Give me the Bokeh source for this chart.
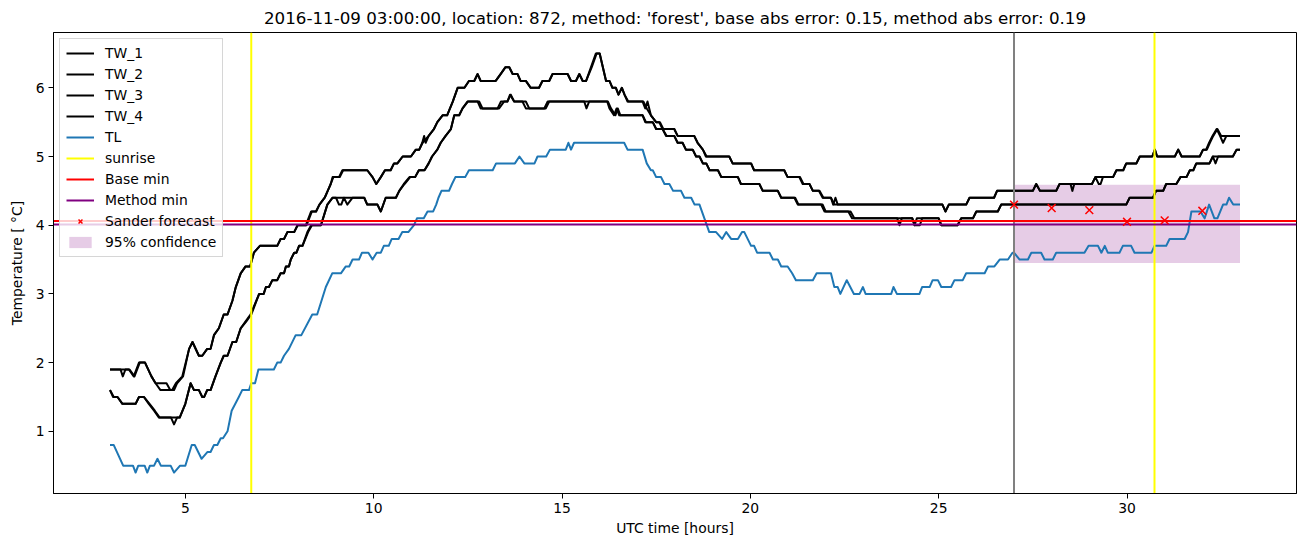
from bokeh.plotting import figure
from bokeh.models import Range1d, Legend, LegendItem, FixedTicker
from bokeh.embed import file_html
from bokeh.resources import INLINE

FONT = "DejaVu Sans"

TITLE = "2016-11-09 03:00:00, location: 872, method: 'forest', base abs error: 0.15, method abs error: 0.19"

# (hour, temperature) vertices of each series
tw_1 = [(3.0,1.9),(3.5,1.9),(3.63,1.8),(3.77,2.0),(3.93,2.0),(4.1,1.8),(4.21,1.7),(4.34,1.6),(4.65,1.6),(4.75,1.7),
        (4.92,1.8),(5.1,2.2),(5.19,2.3),(5.36,2.1),(5.45,2.1),(5.58,2.2),(5.67,2.2),(5.76,2.4),(5.89,2.5),(6.02,2.7),
        (6.12,2.7),(6.25,2.9),(6.34,3.1),(6.47,3.3),(6.6,3.4),(6.72,3.4),(6.82,3.6),(6.98,3.7),(7.44,3.7),(7.53,3.8),
        (7.62,3.8),(7.71,3.9),(7.89,3.9),(7.98,4.0),(8.2,4.0),(8.34,4.2),(8.47,4.2),(8.56,4.3),(8.7,4.4),(8.78,4.5),
        (8.86,4.6),(8.91,4.7),(9.08,4.7),(9.17,4.8),(9.83,4.8),(9.97,4.7),(10.07,4.6),(10.19,4.7),(10.3,4.8),(10.45,4.8),
        (10.54,4.9),(10.63,4.9),(10.77,5.0),(10.99,5.0),(11.12,5.1),(11.21,5.1),(11.29,5.2),(11.34,5.3),(11.38,5.2),(11.46,5.3),
        (11.6,5.4),(11.69,5.5),(11.83,5.6),(11.95,5.6),(12.1,5.8),(12.23,6.0),(12.41,6.0),(12.53,6.1),(12.67,6.1),(12.76,6.2),
        (12.84,6.1),(13.24,6.1),(13.37,6.2),(13.5,6.3),(13.6,6.3),(13.69,6.2),(13.82,6.2),(13.9,6.1),(14.04,6.1),(14.17,6.0),
        (14.39,6.0),(14.48,6.1),(14.66,6.1),(14.75,6.2),(15.15,6.2),(15.24,6.1),(15.37,6.1),(15.46,6.2),(15.55,6.1),(15.64,6.1),
        (15.77,6.3),(15.9,6.5),(16.0,6.5),(16.17,6.1),(16.26,6.1),(16.34,6.0),(16.43,6.0),(16.5,5.9),(16.59,6.0),(16.66,5.9),
        (16.74,5.8),(17.14,5.8),(17.21,5.7),(17.27,5.8),(17.36,5.6),(17.5,5.5),(17.58,5.5),(17.67,5.4),(17.98,5.4),(18.07,5.3),
        (18.51,5.3),(18.6,5.2),(18.74,5.1),(18.82,5.0),(19.44,5.0),(19.53,4.9),(20.02,4.9),(20.1,4.8),(20.9,4.8),(20.99,4.7),
        (21.3,4.7),(21.39,4.6),(21.57,4.6),(21.66,4.5),(21.82,4.5),(21.92,4.4),(22.14,4.4),(22.23,4.3),(25.1,4.3),(25.18,4.2),
        (25.27,4.3),(25.73,4.3),(25.82,4.4),(26.47,4.4),(26.55,4.5),(27.5,4.5),(27.59,4.6),(27.69,4.5),(28.12,4.5),(28.21,4.6),
        (29.07,4.6),(29.16,4.7),(29.25,4.6),(29.3,4.6),(29.36,4.7),(29.63,4.7),(29.72,4.8),(29.9,4.8),(29.98,4.9),(30.25,4.9),
        (30.34,5.0),(30.67,5.0),(30.74,5.1),(30.8,5.0),(31.27,5.0),(31.36,5.1),(31.45,5.0),(31.93,5.0),(32.02,5.1),(32.1,5.1),
        (32.18,5.2),(32.27,5.3),(32.38,5.4),(32.47,5.3),(32.55,5.2),(32.64,5.3),(33.0,5.3)]

tw_2 = [(3.0,1.9),(3.28,1.9),(3.34,1.8),(3.41,1.9),(3.52,1.9),(3.65,1.8),(3.79,2.0),(3.93,2.0),(4.1,1.8),(4.21,1.7),
        (4.5,1.7),(4.6,1.6),(4.7,1.6),(4.78,1.7),(4.94,1.8),(5.1,2.2),(5.19,2.3),(5.36,2.1),(5.45,2.1),(5.58,2.2),
        (5.67,2.2),(5.76,2.4),(5.89,2.5),(6.02,2.7),(6.12,2.7),(6.25,2.9),(6.34,3.1),(6.47,3.3),(6.6,3.4),(6.72,3.4),
        (6.82,3.6),(6.98,3.7),(7.44,3.7),(7.53,3.8),(7.62,3.8),(7.71,3.9),(7.89,3.9),(7.98,4.0),(8.22,4.0),(8.36,4.2),
        (8.47,4.2),(8.56,4.3),(8.7,4.4),(8.78,4.5),(8.86,4.6),(8.93,4.7),(9.1,4.7),(9.19,4.8),(9.83,4.8),(9.97,4.7),
        (10.07,4.6),(10.19,4.7),(10.3,4.8),(10.45,4.8),(10.54,4.9),(10.63,4.9),(10.77,5.0),(10.99,5.0),(11.12,5.1),(11.21,5.1),
        (11.3,5.2),(11.46,5.3),(11.6,5.4),(11.69,5.5),(11.83,5.6),(11.95,5.6),(12.1,5.8),(12.23,6.0),(12.41,6.0),(12.53,6.1),
        (12.67,6.1),(12.76,6.2),(12.84,6.1),(13.24,6.1),(13.37,6.2),(13.5,6.3),(13.6,6.3),(13.69,6.2),(13.82,6.2),(13.9,6.1),
        (14.04,6.1),(14.17,6.0),(14.39,6.0),(14.48,6.1),(14.66,6.1),(14.75,6.2),(15.15,6.2),(15.24,6.1),(15.37,6.1),(15.46,6.2),
        (15.55,6.1),(15.64,6.1),(15.79,6.3),(15.92,6.5),(16.0,6.5),(16.17,6.1),(16.26,6.1),(16.34,6.0),(16.43,6.0),(16.5,5.9),
        (16.59,6.0),(16.66,5.9),(16.76,5.8),(17.16,5.8),(17.25,5.7),(17.36,5.6),(17.5,5.5),(17.6,5.5),(17.69,5.4),(17.98,5.4),
        (18.07,5.3),(18.51,5.3),(18.6,5.2),(18.74,5.1),(18.84,5.0),(19.44,5.0),(19.53,4.9),(20.02,4.9),(20.1,4.8),(20.9,4.8),
        (20.99,4.7),(21.32,4.7),(21.41,4.6),(21.57,4.6),(21.66,4.5),(21.84,4.5),(21.94,4.4),(22.14,4.4),(22.2,4.3),(22.26,4.4),
        (22.32,4.3),(25.1,4.3),(25.18,4.2),(25.27,4.3),(25.73,4.3),(25.82,4.4),(26.47,4.4),(26.55,4.5),(27.5,4.5),(27.59,4.6),
        (27.69,4.5),(28.12,4.5),(28.21,4.6),(28.5,4.6),(28.55,4.5),(28.6,4.6),(29.07,4.6),(29.16,4.7),(29.63,4.7),(29.72,4.8),
        (29.9,4.8),(29.98,4.9),(30.25,4.9),(30.34,5.0),(30.67,5.0),(30.74,5.1),(30.8,5.0),(31.27,5.0),(31.36,5.1),(31.45,5.0),
        (31.93,5.0),(32.02,5.1),(32.12,5.1),(32.2,5.2),(32.29,5.3),(32.4,5.4),(32.5,5.3),(33.0,5.3)]

tw_3 = [(3.0,1.6),(3.08,1.5),(3.2,1.5),(3.33,1.4),(3.68,1.4),(3.77,1.5),(3.9,1.5),(4.03,1.4),(4.17,1.3),(4.3,1.2),
        (4.62,1.2),(4.7,1.1),(4.78,1.2),(4.85,1.2),(5.0,1.4),(5.14,1.7),(5.23,1.6),(5.36,1.6),(5.45,1.5),(5.5,1.5),
        (5.58,1.6),(5.67,1.6),(5.8,1.8),(5.94,2.0),(6.02,2.1),(6.12,2.1),(6.25,2.3),(6.35,2.3),(6.47,2.5),(6.6,2.6),
        (6.73,2.7),(6.96,3.0),(7.08,3.0),(7.14,3.1),(7.22,3.1),(7.31,3.2),(7.44,3.2),(7.53,3.3),(7.62,3.3),(7.67,3.4),
        (7.75,3.4),(7.8,3.5),(7.89,3.6),(7.95,3.6),(8.02,3.7),(8.11,3.7),(8.24,3.9),(8.34,4.0),(8.6,4.0),(8.77,4.3),
        (8.91,4.4),(9.0,4.4),(9.08,4.3),(9.14,4.3),(9.21,4.4),(9.3,4.3),(9.44,4.4),(9.75,4.4),(9.83,4.3),(10.1,4.3),
        (10.19,4.2),(10.32,4.4),(10.59,4.4),(10.68,4.5),(10.8,4.6),(10.95,4.7),(11.1,4.7),(11.2,4.8),(11.35,4.8),(11.46,4.9),
        (11.55,5.0),(11.69,5.1),(11.78,5.2),(11.91,5.3),(12.05,5.4),(12.14,5.6),(12.27,5.6),(12.36,5.7),(12.49,5.8),(12.8,5.8),
        (12.89,5.7),(13.33,5.7),(13.46,5.8),(13.55,5.8),(13.62,5.9),(13.73,5.8),(14.04,5.8),(14.13,5.7),(14.57,5.7),(14.66,5.8),
        (15.59,5.8),(15.65,5.7),(15.72,5.8),(16.2,5.8),(16.26,5.7),(16.38,5.6),(16.45,5.7),(16.52,5.6),(17.14,5.6),(17.21,5.5),
        (17.41,5.5),(17.5,5.4),(17.67,5.4),(17.76,5.3),(17.98,5.3),(18.07,5.2),(18.2,5.2),(18.29,5.1),(18.47,5.1),(18.56,5.0),
        (18.65,5.0),(18.74,4.9),(18.83,4.9),(18.92,4.8),(19.14,4.8),(19.23,4.7),(19.67,4.7),(19.75,4.6),(20.24,4.6),(20.33,4.5),
        (20.73,4.5),(20.82,4.4),(21.17,4.4),(21.26,4.3),(21.88,4.3),(21.97,4.2),(22.6,4.2),(22.7,4.1),(23.9,4.1),(23.96,4.0),
        (24.02,4.1),(24.3,4.1),(24.36,4.0),(24.5,4.0),(24.56,4.1),(25.0,4.1),(25.07,4.0),(25.5,4.0),(25.6,4.1),(25.91,4.1),
        (26.0,4.2),(26.57,4.2),(26.66,4.3),(29.98,4.3),(30.07,4.4),(30.69,4.4),(30.77,4.5),(30.96,4.5),(31.04,4.6),(31.31,4.6),
        (31.42,4.7),(31.58,4.7),(31.67,4.8),(31.76,4.8),(31.84,4.9),(32.19,4.9),(32.28,5.0),(32.81,5.0),(32.91,5.1),(33.0,5.1)]

tw_4 = [(3.0,1.6),(3.1,1.5),(3.2,1.5),(3.33,1.4),(3.68,1.4),(3.77,1.5),(3.9,1.5),(4.05,1.4),(4.19,1.3),(4.32,1.2),
        (4.85,1.2),(5.0,1.4),(5.14,1.7),(5.23,1.6),(5.36,1.6),(5.45,1.5),(5.5,1.5),(5.58,1.6),(5.67,1.6),(5.8,1.8),
        (5.94,2.0),(6.02,2.1),(6.12,2.1),(6.25,2.3),(6.35,2.3),(6.47,2.5),(6.62,2.6),(6.75,2.7),(6.96,3.0),(7.08,3.0),
        (7.14,3.1),(7.22,3.1),(7.31,3.2),(7.44,3.2),(7.53,3.3),(7.62,3.3),(7.67,3.4),(7.75,3.4),(7.8,3.5),(7.89,3.6),
        (7.95,3.6),(8.02,3.7),(8.11,3.7),(8.26,3.9),(8.36,4.0),(8.6,4.0),(8.77,4.3),(8.91,4.4),(9.44,4.4),(9.75,4.4),
        (9.83,4.3),(10.1,4.3),(10.19,4.2),(10.32,4.4),(10.59,4.4),(10.68,4.5),(10.82,4.6),(10.97,4.7),(11.1,4.7),(11.2,4.8),
        (11.35,4.8),(11.46,4.9),(11.55,5.0),(11.69,5.1),(11.78,5.2),(11.91,5.3),(12.05,5.4),(12.14,5.6),(12.27,5.6),(12.36,5.7),
        (12.5,5.8),(12.76,5.8),(12.84,5.7),(13.29,5.7),(13.38,5.8),(13.55,5.8),(13.64,5.9),(13.73,5.8),(13.95,5.8),(14.04,5.7),
        (14.53,5.7),(14.62,5.8),(15.59,5.8),(15.72,5.8),(16.22,5.8),(16.3,5.7),(16.42,5.6),(16.48,5.7),(16.55,5.6),(17.14,5.6),
        (17.23,5.5),(17.41,5.5),(17.5,5.4),(17.67,5.4),(17.78,5.3),(17.98,5.3),(18.07,5.2),(18.2,5.2),(18.29,5.1),(18.47,5.1),
        (18.56,5.0),(18.65,5.0),(18.74,4.9),(18.83,4.9),(18.92,4.8),(19.14,4.8),(19.23,4.7),(19.67,4.7),(19.75,4.6),(20.24,4.6),
        (20.33,4.5),(20.73,4.5),(20.82,4.4),(21.19,4.4),(21.28,4.3),(21.92,4.3),(22.0,4.2),(22.66,4.2),(22.76,4.1),(24.3,4.1),
        (24.36,4.0),(24.42,4.1),(25.0,4.1),(25.07,4.0),(25.5,4.0),(25.6,4.1),(25.91,4.1),(26.0,4.2),(26.57,4.2),(26.66,4.3),
        (29.98,4.3),(30.07,4.4),(30.69,4.4),(30.77,4.5),(30.96,4.5),(31.04,4.6),(31.31,4.6),(31.42,4.7),(31.58,4.7),(31.67,4.8),
        (31.76,4.8),(31.84,4.9),(32.19,4.9),(32.28,5.0),(32.35,4.9),(32.42,5.0),(32.81,5.0),(32.91,5.1),(33.0,5.1)]

tl = [(3.0,0.8),(3.1,0.8),(3.35,0.5),(3.61,0.5),(3.68,0.4),(3.75,0.5),(3.92,0.5),(3.99,0.4),(4.06,0.5),(4.17,0.5),
      (4.26,0.6),(4.35,0.5),(4.61,0.5),(4.7,0.4),(4.86,0.5),(5.0,0.5),(5.17,0.8),(5.25,0.8),(5.43,0.6),(5.59,0.7),
      (5.67,0.7),(5.76,0.8),(5.85,0.8),(5.94,0.9),(6.0,0.9),(6.12,1.0),(6.23,1.3),(6.42,1.5),(6.51,1.6),(6.69,1.6),
      (6.75,1.7),(6.85,1.7),(6.94,1.9),(7.35,1.9),(7.44,2.0),(7.53,2.0),(7.62,2.1),(7.75,2.2),(7.93,2.4),(8.08,2.4),
      (8.37,2.7),(8.5,2.7),(8.73,3.1),(8.9,3.3),(9.13,3.3),(9.26,3.4),(9.35,3.4),(9.44,3.5),(9.61,3.5),(9.69,3.6),
      (9.86,3.6),(9.97,3.5),(10.08,3.6),(10.19,3.6),(10.27,3.7),(10.4,3.7),(10.48,3.8),(10.66,3.8),(10.76,3.9),(10.92,3.9),
      (11.07,4.0),(11.15,4.1),(11.33,4.1),(11.43,4.2),(11.58,4.2),(11.66,4.3),(11.72,4.4),(11.8,4.5),(12.0,4.5),(12.08,4.6),
      (12.17,4.7),(12.43,4.7),(12.53,4.8),(13.16,4.8),(13.25,4.9),(13.75,4.9),(13.87,5.0),(14.0,4.9),(14.27,4.9),(14.35,5.0),
      (14.58,5.0),(14.68,5.1),(15.1,5.1),(15.17,5.2),(15.24,5.1),(15.32,5.2),(16.65,5.2),(16.74,5.1),(17.14,5.1),(17.25,4.9),
      (17.36,4.8),(17.41,4.8),(17.5,4.7),(17.63,4.7),(17.72,4.6),(17.85,4.6),(17.95,4.5),(18.16,4.5),(18.25,4.4),(18.43,4.4),
      (18.52,4.3),(18.65,4.3),(18.91,3.9),(19.09,3.9),(19.25,3.8),(19.36,3.9),(19.49,3.8),(19.67,3.8),(19.78,3.9),(19.84,3.9),
      (20.02,3.7),(20.1,3.7),(20.18,3.6),(20.51,3.6),(20.6,3.5),(20.73,3.5),(20.82,3.4),(20.99,3.4),(21.11,3.3),(21.21,3.2),
      (21.66,3.2),(21.76,3.3),(22.14,3.3),(22.23,3.1),(22.32,3.1),(22.39,3.0),(22.56,3.2),(22.75,3.0),(22.9,3.0),(22.99,3.1),
      (23.06,3.0),(23.74,3.0),(23.8,3.1),(23.89,3.0),(24.49,3.0),(24.56,3.1),(24.76,3.1),(24.84,3.2),(24.98,3.2),(25.07,3.1),
      (25.33,3.1),(25.42,3.2),(25.64,3.2),(25.73,3.3),(26.22,3.3),(26.31,3.4),(26.48,3.4),(26.62,3.5),(26.84,3.5),(26.96,3.6),
      (27.0,3.6),(27.15,3.5),(27.37,3.5),(27.46,3.6),(27.72,3.6),(27.81,3.5),(28.03,3.5),(28.12,3.6),(28.87,3.6),(28.98,3.7),
      (29.23,3.7),(29.32,3.6),(29.41,3.7),(29.49,3.6),(29.8,3.6),(29.89,3.7),(30.11,3.7),(30.2,3.6),(30.65,3.6),(30.73,3.7),
      (31.04,3.7),(31.13,3.8),(31.53,3.8),(31.62,3.9),(31.71,4.2),(31.95,4.2),(32.06,4.1),(32.18,4.3),(32.32,4.1),(32.4,4.1),
      (32.55,4.3),(32.64,4.3),(32.71,4.4),(32.82,4.3),(33.0,4.3)]

sunrise_hours = [6.75, 30.73]
forecast_start = [27.0]
base_min = [4.06]
method_min = [4.01]
forecast_hours = [27, 28, 29, 30, 31, 32]
forecast_values = [4.30, 4.25, 4.22, 4.05, 4.07, 4.21]
conf_hours = [27.0, 33.0]
conf_low = 3.45
conf_high = 4.59

x_ticks = [5, 10, 15, 20, 25, 30]
y_ticks = [1, 2, 3, 4, 5, 6]
x_lo, x_hi = 1.5, 34.5
y_lo, y_hi = 0.095, 6.805

p = figure(width=1302, height=547, output_backend="svg", toolbar_location=None,
           x_range=Range1d(x_lo, x_hi), y_range=Range1d(y_lo, y_hi),
           min_border_left=53, min_border_right=6, min_border_top=32, min_border_bottom=54,
           title=TITLE)
p.background_fill_color = "white"
p.border_fill_color = "white"
p.title.text_font = FONT
p.title.text_font_size = "16.7px"
p.title.text_font_style = "normal"
p.title.text_color = "black"
p.title.align = "center"
p.xgrid.visible = False
p.ygrid.visible = False
p.outline_line_color = "black"
p.outline_line_width = 1
p.outline_line_alpha = 1

for ax, ticks in ((p.xaxis, x_ticks), (p.yaxis, y_ticks)):
    ax.ticker = FixedTicker(ticks=ticks)
    ax.axis_line_color = "black"
    ax.major_tick_line_color = "black"
    ax.major_tick_out = 5
    ax.major_tick_in = 0
    ax.minor_tick_line_color = None
    ax.major_label_text_font = FONT
    ax.major_label_text_font_size = "13.9px"
    ax.major_label_text_color = "black"
    ax.axis_label_text_font = FONT
    ax.axis_label_text_font_size = "13.9px"
    ax.axis_label_text_font_style = "normal"
    ax.axis_label_text_color = "black"
p.xaxis.axis_label = "UTC time [hours]"
p.yaxis.axis_label = "Temperature [ °C]"
p.xaxis.major_label_standoff = 4
p.xaxis.axis_label_standoff = 4
p.yaxis.major_label_standoff = 4
p.yaxis.axis_label_standoff = 8

band = p.quad(left=[conf_hours[0]], right=[conf_hours[1]], bottom=[conf_low], top=[conf_high],
              fill_color="purple", fill_alpha=0.2, line_color=None)

tw_renderers = []
for series in (tw_1, tw_2, tw_3, tw_4):
    xs, ys = zip(*series)
    tw_renderers.append(p.line(list(xs), list(ys), line_color="black", line_width=2, line_join="round"))
xs, ys = zip(*tl)
tl_r = p.line(list(xs), list(ys), line_color="#1f77b4", line_width=2, line_join="round")

n_sun = len(sunrise_hours)
sun_r = p.segment(x0=sunrise_hours, y0=[y_lo] * n_sun, x1=sunrise_hours, y1=[y_hi] * n_sun,
                  line_color="yellow", line_width=2)
p.segment(x0=forecast_start, y0=[y_lo], x1=forecast_start, y1=[y_hi],
          line_color="gray", line_width=2)
base_r = p.segment(x0=[x_lo], y0=base_min, x1=[x_hi], y1=base_min, line_color="red", line_width=2)
meth_r = p.segment(x0=[x_lo], y0=method_min, x1=[x_hi], y1=method_min, line_color="purple", line_width=2)

fc = p.scatter(forecast_hours, forecast_values, marker="x", size=11, line_color="red", line_width=1.5)

items = [LegendItem(label="TW_%d" % (i + 1), renderers=[r]) for i, r in enumerate(tw_renderers)]
items += [LegendItem(label="TL", renderers=[tl_r]),
          LegendItem(label="sunrise", renderers=[sun_r], index=0),
          LegendItem(label="Base min", renderers=[base_r], index=0),
          LegendItem(label="Method min", renderers=[meth_r], index=0),
          LegendItem(label="Sander forecast", renderers=[fc], index=0),
          LegendItem(label="95% confidence", renderers=[band], index=0)]
legend = Legend(items=items, location="top_left", margin=6, padding=6, spacing=5,
                glyph_height=14, glyph_width=28, label_height=14, label_standoff=11,
                label_text_font=FONT, label_text_font_size="13.9px", label_text_color="black",
                border_line_color="#cccccc", border_line_alpha=0.8,
                background_fill_color="white", background_fill_alpha=0.8)
p.add_layout(legend)

open("out.html", "w").write(file_html(p, INLINE))
